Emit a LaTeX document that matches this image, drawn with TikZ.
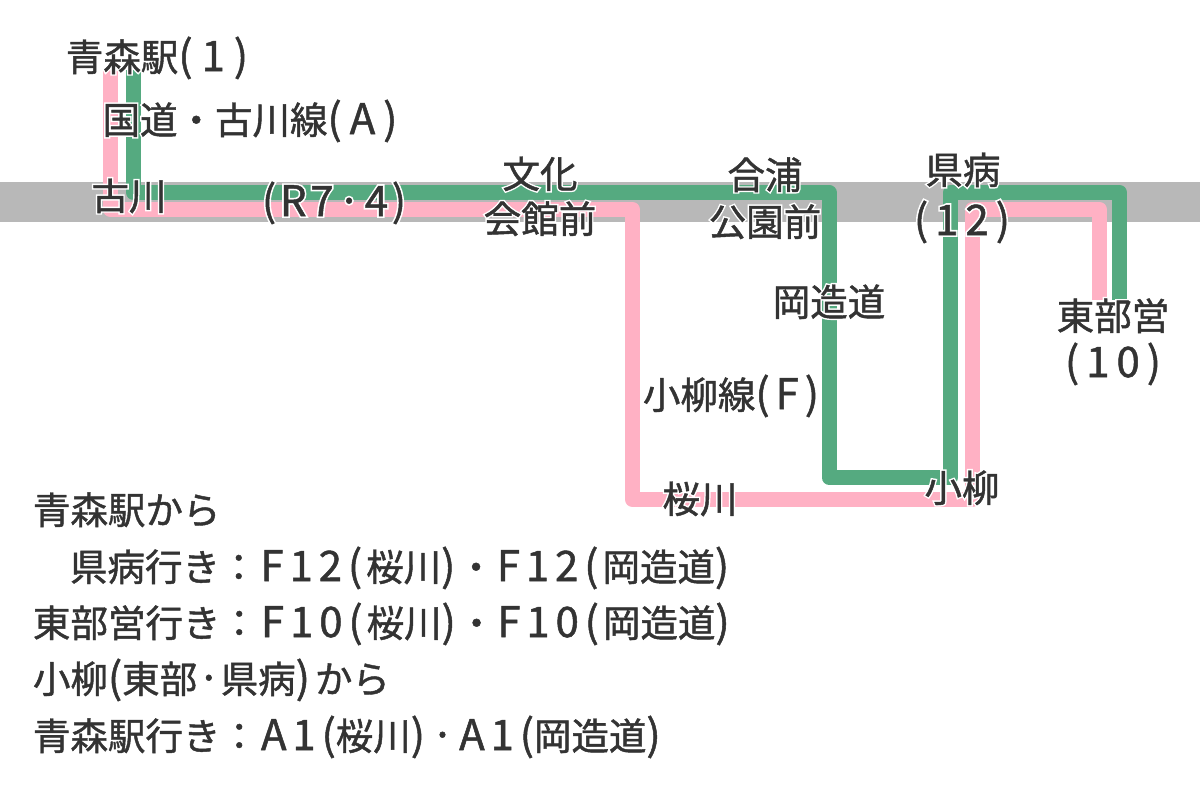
\documentclass[tikz,border=0pt]{standalone}
\usepackage{fontspec}
\setmainfont{Noto Sans CJK JP}
\newfontfamily\jpreg[FakeBold=1.2]{Noto Sans CJK JP}
\newfontfamily\jphalo[FakeBold=9]{Noto Sans CJK JP}
\newfontfamily\latreg[Scale=1.12,LetterSpace=9,FakeBold=1.2]{Noto Sans CJK JP}
\newfontfamily\lathalo[Scale=1.12,LetterSpace=9,FakeBold=9]{Noto Sans CJK JP}
\newfontfamily\latwide[Scale=1.12,LetterSpace=14,FakeBold=1.2]{Noto Sans CJK JP}
\definecolor{ink}{HTML}{333333}
\definecolor{rpink}{HTML}{FFB1C4}
\definecolor{rgreen}{HTML}{55AA80}
\definecolor{band}{HTML}{B8B8B8}
\newcommand{\lat}[1]{{\curlat #1}}
\newcommand{\lw}[1]{{\latwide #1}}
\let\curlat\latreg
\newcommand{\halo}[1]{\leavevmode\rlap{\color{white}\jphalo\let\curlat\lathalo #1}{\color{ink}\jpreg\let\curlat\latreg #1}}
\tikzset{
  routeline/.style={line width=15pt,line join=round},
  stn/.style={anchor=base,inner sep=0pt,outer sep=0pt,font=\fontsize{37.5}{37.5}\selectfont},
  legend/.style={anchor=base west,inner sep=0pt,outer sep=0pt,text=ink,font=\fontsize{37.5}{37.5}\selectfont\jpreg},
}
\begin{document}
\begin{tikzpicture}[x=1pt,y=-1pt]
\useasboundingbox (0,0) rectangle (1200,790);
\fill[band] (0,182) rectangle (1200,222);
% pink route
\coordinate (p0) at (110.5,70);
\coordinate (p1) at (110.5,209.5);
\coordinate (p2) at (632.5,209.5);
\coordinate (p3) at (632.5,499.5);
\coordinate (p4) at (972.5,499.5);
\coordinate (p5) at (972.5,209.5);
\coordinate (p6) at (1099.5,209.5);
\coordinate (p7) at (1099.5,300);
\draw[routeline,rpink] (p0) -- (p1) -- (p2) -- (p3) -- (p4) -- (p5) -- (p6) -- (p7);
% green route
\coordinate (g0) at (133.5,70);
\coordinate (g1) at (133.5,192.5);
\coordinate (g2) at (829,192.5);
\coordinate (g3) at (829,477.5);
\coordinate (g4) at (950.5,477.5);
\coordinate (g5) at (950.5,192.5);
\coordinate (g6) at (1119.5,192.5);
\coordinate (g7) at (1119.5,300);
\draw[routeline,rgreen] (g0) -- (g1) -- (g2) -- (g3) -- (g4) -- (g5) -- (g6) -- (g7);
% labels
\node[stn] (aomori) at (157,71) {\halo{青森駅\lat{(\kern9pt 1\kern9pt)}}};
\node[stn] (lineA) at (250,134) {\halo{国道・古川線\lat{(\kern8pt A\kern8pt)}}};
\node[stn] (furukawa) at (129,210) {\halo{古川}};
\node[stn] (r7) at (334,216) {\halo{\lat{(R7·4)}}};
\node[stn] (bunka) at (540,188) {\halo{文化}};
\node[stn] (kaikan) at (540,233) {\halo{会館前}};
\node[stn] (goura) at (765,189) {\halo{合浦}};
\node[stn] (koen) at (765,236) {\halo{公園前}};
\node[stn] (kenbyo) at (963,184) {\halo{県病}};
\node[stn] (n12) at (962,235) {\halo{\lat{(\kern7pt 1\kern7pt 2\kern7pt)}}};
\node[stn] (okazo) at (829,316) {\halo{岡造道}};
\node[stn] (tobu) at (1113,330) {\halo{東部営}};
\node[stn] (n10) at (1113,377) {\halo{\lat{(\kern7pt 1\kern7pt 0\kern7pt)}}};
\node[stn] (lineF) at (731,409) {\halo{小柳線\lat{(\kern6pt F\kern6pt)}}};
\node[stn] (sakura) at (700,513) {\halo{桜川}};
\node[stn] (koyagi) at (962,502) {\halo{小柳}};
% legend
\node[legend] (l1) at (33,524) {青森駅から};
\node[legend] (l2) at (70,581) {県病行き：\kern3pt\lw{F12(}\kern4pt 桜川\lw{)}\kern2pt・\kern2pt\lw{F12(}\kern4pt 岡造道\lw{)}};
\node[legend] (l3) at (33,637) {東部営行き：\kern3pt\lw{F10(}\kern4pt 桜川\lw{)}\kern2pt・\kern2pt\lw{F10(}\kern4pt 岡造道\lw{)}};
\node[legend] (l4) at (33,693) {小柳\lw{(}東部\lw{·}県病\lw{)}\kern5pt から};
\node[legend] (l5) at (33,750) {青森駅行き：\kern3pt\lw{A1(}桜川\lw{)·A1(}岡造道\lw{)}};
\end{tikzpicture}
\end{document}
